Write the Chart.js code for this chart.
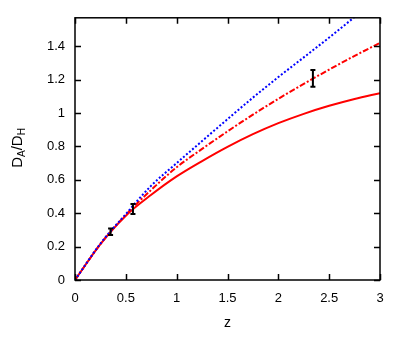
<!DOCTYPE html>
<html>
<head>
<meta charset="utf-8">
<script src="https://cdn.jsdelivr.net/npm/chart.js@4/dist/chart.umd.min.js"></script>
<style>
  html, body { margin: 0; padding: 0; background: #fff; }
  #wrap { width: 407px; height: 339px; }
</style>
</head>
<body>
<div id="wrap"><canvas id="chart" width="407" height="339"></canvas></div>
<script>
"use strict";

/**************************************************************
 * Data
 **************************************************************/
const zGrid = [0, 0.25, 0.5, 0.75, 1, 1.25, 1.5, 1.75, 2, 2.25, 2.5, 2.75, 3];

const solidRed = [0, 0.215, 0.385, 0.51, 0.62, 0.712, 0.797, 0.873, 0.939, 0.995, 1.043, 1.084, 1.119];
const dashDotRed = [0, 0.215, 0.39, 0.54, 0.675, 0.785, 0.89, 0.99, 1.085, 1.174, 1.26, 1.342, 1.42];
const dottedBlue = [0, 0.218, 0.395, 0.565, 0.7, 0.832, 0.963, 1.092, 1.215, 1.333, 1.452, 1.575, 1.7];

const obsZ = [0.35, 0.57, 2.34];
const obsY = [0.289, 0.425, 1.207];
const obsErr = [0.02, 0.03, 0.05];

const xTicks = [0, 0.5, 1, 1.5, 2, 2.5, 3];
const yTicks = [0, 0.2, 0.4, 0.6, 0.8, 1, 1.2, 1.4];

const FONT = "'Liberation Sans', Arial, sans-serif";

function toPoints(ys) {
  return zGrid.map((z, i) => ({ x: z, y: ys[i] }));
}

/**************************************************************
 * Frame, inward ticks, error bars, y label with subscripts
 **************************************************************/
const framePlugin = {
  id: "frame",
  afterDatasetsDraw(chart) {
    const ctx = chart.ctx;
    const a = chart.chartArea;
    const xs = chart.scales.x;
    const ys = chart.scales.y;

    ctx.save();

    // error bars
    ctx.strokeStyle = "#000";
    ctx.lineWidth = 2;
    obsZ.forEach((z, i) => {
      const px = xs.getPixelForValue(z);
      const top = ys.getPixelForValue(obsY[i] + obsErr[i]);
      const bot = ys.getPixelForValue(obsY[i] - obsErr[i]);
      ctx.beginPath();
      ctx.moveTo(px, top);
      ctx.lineTo(px, bot);
      ctx.moveTo(px - 2.5, top);
      ctx.lineTo(px + 2.5, top);
      ctx.moveTo(px - 2.5, bot);
      ctx.lineTo(px + 2.5, bot);
      ctx.stroke();
    });

    // frame
    ctx.lineWidth = 1.5;
    ctx.strokeRect(a.left, a.top, a.right - a.left, a.bottom - a.top);

    // inward ticks on all four sides
    const len = 6;
    ctx.beginPath();
    xTicks.forEach((v) => {
      const px = Math.round(xs.getPixelForValue(v)) + 0.5;
      ctx.moveTo(px, a.bottom);
      ctx.lineTo(px, a.bottom - len);
      ctx.moveTo(px, a.top);
      ctx.lineTo(px, a.top + len);
    });
    yTicks.forEach((v) => {
      const py = Math.round(ys.getPixelForValue(v)) + 0.5;
      ctx.moveTo(a.left, py);
      ctx.lineTo(a.left + len, py);
      ctx.moveTo(a.right, py);
      ctx.lineTo(a.right - len, py);
    });
    ctx.stroke();

    // y axis title  D_A/D_H
    ctx.translate(22, 148);
    ctx.rotate(-Math.PI / 2);
    ctx.fillStyle = "#000";
    ctx.textBaseline = "alphabetic";
    const big = "15px " + FONT;
    const small = "10px " + FONT;
    const parts = [
      ["D", big, 0],
      ["A", small, 3],
      ["/D", big, 0],
      ["H", small, 3],
    ];
    let total = 0;
    parts.forEach((p) => {
      ctx.font = p[1];
      total += ctx.measureText(p[0]).width;
    });
    let cx = -total / 2;
    parts.forEach((p) => {
      ctx.font = p[1];
      ctx.fillText(p[0], cx, p[2]);
      cx += ctx.measureText(p[0]).width;
    });

    ctx.restore();
  },
};

/**************************************************************
 * Chart
 **************************************************************/
const lineBase = {
  showLine: true,
  pointRadius: 0,
  borderWidth: 2,
  cubicInterpolationMode: "monotone",
  fill: false,
};

new Chart(document.getElementById("chart").getContext("2d"), {
  type: "scatter",
  data: {
    datasets: [
      {
        ...lineBase,
        label: "blue dotted",
        data: toPoints(dottedBlue),
        borderColor: "#0000ff",
        borderDash: [2, 2],
      },
      {
        ...lineBase,
        label: "red dash-dot",
        data: toPoints(dashDotRed),
        borderColor: "#ff0000",
        borderDash: [6, 2, 2, 2],
      },
      {
        ...lineBase,
        label: "red solid",
        data: toPoints(solidRed),
        borderColor: "#ff0000",
      },
    ],
  },
  options: {
    responsive: false,
    animation: false,
    layout: { padding: { top: 17, right: 27, left: 0, bottom: 0 } },
    plugins: {
      legend: { display: false },
      tooltip: { enabled: false },
    },
    scales: {
      x: {
        type: "linear",
        min: 0,
        max: 3,
        afterFit(scale) {
          scale.height = 59;
        },
        afterBuildTicks(scale) {
          scale.ticks = xTicks.map((v) => ({ value: v }));
        },
        grid: { display: false, drawTicks: false },
        border: { display: false },
        ticks: {
          color: "#000",
          padding: 11,
          font: { family: FONT, size: 13 },
          callback: (v) => String(v),
        },
        title: {
          display: true,
          text: "z",
          color: "#000",
          font: { family: FONT, size: 14 },
          padding: { top: 4, bottom: 7 },
        },
      },
      y: {
        type: "linear",
        min: 0,
        max: 1.57,
        afterFit(scale) {
          scale.width = 75;
        },
        afterBuildTicks(scale) {
          scale.ticks = yTicks.map((v) => ({ value: v }));
        },
        grid: { display: false, drawTicks: false },
        border: { display: false },
        ticks: {
          color: "#000",
          padding: 10,
          font: { family: FONT, size: 13 },
          callback: (v) => String(v),
        },
      },
    },
  },
  plugins: [framePlugin],
});
</script>
</body>
</html>
